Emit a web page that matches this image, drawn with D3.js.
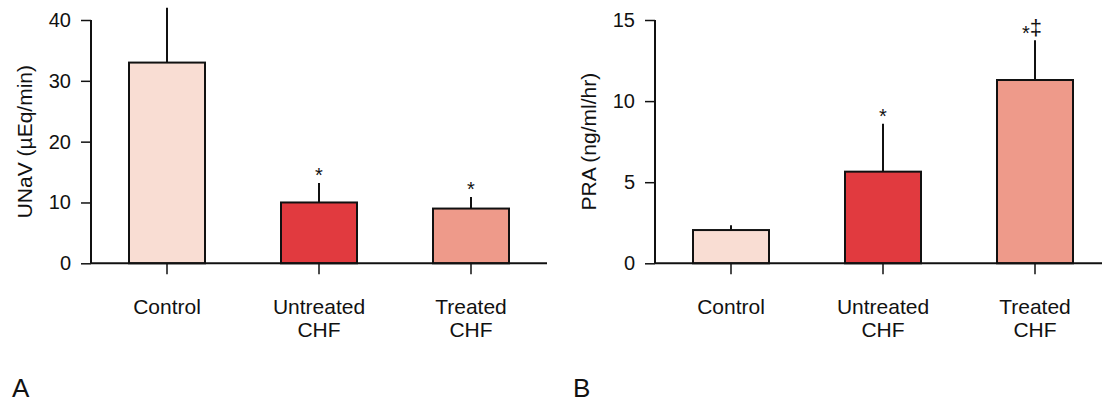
<!DOCTYPE html>
<html><head><meta charset="utf-8">
<script src="https://cdn.jsdelivr.net/npm/d3@7"></script>
<style>
body{margin:0;background:#fff;}
svg{display:block;font-family:"Liberation Sans",Arial,Helvetica,sans-serif;}
</style></head>
<body><svg id="c" width="1102" height="403"></svg>
<script>
const categories = ["Control", "Untreated\nCHF", "Treated\nCHF"];
const colors = ["#F9DDD3", "#E13A3F", "#EE9A8A"];
// Panel A: UNaV (µEq/min)
const unavMean = [33, 10, 9];
const unavErr = [9, 3.2, 1.9];
const unavMarks = ["", "*", "*"];
const unavTicks = [0, 10, 20, 30, 40];
// Panel B: PRA (ng/ml/hr)
const praMean = [2.05, 5.65, 11.3];
const praErr = [0.3, 2.95, 2.45];
const praMarks = ["", "*", "*‡"];
const praTicks = [0, 5, 10, 15];

const svg = d3.select("#c");

function panel(opts){
  const g = svg.append("g");
  const x0 = opts.x0, top = 20, bottom = 263.3;
  const x = d3.scaleBand().domain(categories).range([x0, x0 + 456]).paddingInner(0.5).paddingOuter(0.25);
  const y = d3.scaleLinear().domain([0, opts.max]).range([bottom, top]);

  // bars
  g.selectAll("rect.bar").data(opts.mean).join("rect")
    .attr("x", (d,i) => x(categories[i]))
    .attr("y", d => y(d))
    .attr("width", x.bandwidth())
    .attr("height", d => bottom - y(d))
    .attr("fill", (d,i) => colors[i])
    .attr("stroke", "#111").attr("stroke-width", 2);

  // error bars
  g.selectAll("line.err").data(opts.mean).join("line")
    .attr("x1", (d,i) => x(categories[i]) + x.bandwidth()/2)
    .attr("x2", (d,i) => x(categories[i]) + x.bandwidth()/2)
    .attr("y1", d => y(d))
    .attr("y2", (d,i) => y(d + opts.err[i]))
    .attr("stroke", "#111").attr("stroke-width", 2);

  // significance marks
  opts.marks.forEach((m,i) => {
    if(!m) return;
    const cx = x(categories[i]) + x.bandwidth()/2;
    const yt = y(opts.mean[i] + opts.err[i]);
    if (m === "*") {
      g.append("text").attr("x", cx).attr("y", yt - 1).attr("text-anchor","middle")
        .attr("font-size", 20).attr("fill","#111").text("*");
    } else {
      const t = g.append("text").attr("x", cx - 3).attr("y", yt - 5).attr("text-anchor","middle")
        .attr("font-size", 22).attr("fill","#111");
      t.append("tspan").attr("font-size", 20).attr("dy", 5).text("*");
      t.append("tspan").attr("dy", -5).text("‡");
    }
  });

  // y axis
  const ya = g.append("g").attr("transform", `translate(${x0},0)`)
    .call(d3.axisLeft(y).tickValues(opts.ticks).tickSize(10).tickPadding(10));
  ya.select(".domain").attr("stroke","#111").attr("stroke-width",2).attr("d", `M0,${top}V${bottom}`);
  ya.selectAll(".tick line").attr("stroke","#111").attr("stroke-width",1.5);
  ya.selectAll(".tick text").attr("font-size", 20).attr("fill","#111")
    .attr("font-family","Liberation Sans, Arial, sans-serif");

  // x axis
  const xa = g.append("g").attr("transform", `translate(0,${bottom})`)
    .call(d3.axisBottom(x).tickSize(11).tickFormat(""));
  xa.select(".domain").attr("stroke","#111").attr("stroke-width",2).attr("d", `M${x0},0H${x0+456}`);
  xa.selectAll(".tick line").attr("stroke","#111").attr("stroke-width",1.5);

  // category labels
  categories.forEach(c => {
    const cx = x(c) + x.bandwidth()/2;
    const t = g.append("text").attr("x", cx).attr("y", 314).attr("text-anchor","middle")
      .attr("font-size", 21).attr("fill","#111");
    c.split("\n").forEach((ln, k) => {
      t.append("tspan").attr("x", cx).attr("dy", k === 0 ? 0 : 23).text(ln);
    });
  });

  // y title
  g.append("text").attr("transform", `translate(${opts.titleX},${(top+bottom)/2}) rotate(-90)`)
    .attr("text-anchor","middle").attr("font-size", 21).attr("fill","#111").text(opts.title);

  // panel letter
  g.append("text").attr("x", opts.letterX).attr("y", 397).attr("font-size", 26).attr("fill","#111").text(opts.letter);
}

panel({x0: 91, max: 40, mean: unavMean, err: unavErr, marks: unavMarks, ticks: unavTicks,
  title: "UNaV (µEq/min)", titleX: 32, letter: "A", letterX: 12});
panel({x0: 655, max: 15, mean: praMean, err: praErr, marks: praMarks, ticks: praTicks,
  title: "PRA (ng/ml/hr)", titleX: 596, letter: "B", letterX: 573});
</script></body></html>
